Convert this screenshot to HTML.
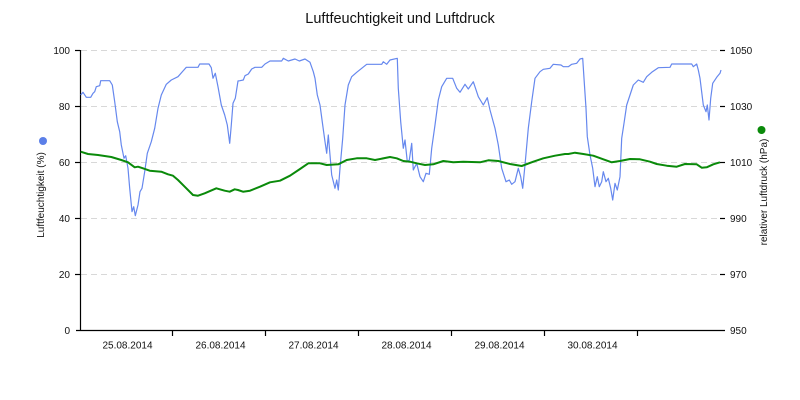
<!DOCTYPE html>
<html><head><meta charset="utf-8"><style>
html,body{margin:0;padding:0;background:#fff;}
svg{display:block;}
text{font-family:"Liberation Sans","DejaVu Sans",sans-serif;fill:#111;}
</style></head><body>
<svg width="800" height="400" viewBox="0 0 800 400" xmlns="http://www.w3.org/2000/svg">
<rect width="800" height="400" fill="#fff"/>
<text x="400" y="23" text-anchor="middle" font-size="14.5" fill="#111">Luftfeuchtigkeit und Luftdruck</text>
<g stroke="#d8d8d8" stroke-width="1" stroke-dasharray="6,4">
<line x1="81" y1="50.5" x2="720" y2="50.5"/>
<line x1="81" y1="106.5" x2="720" y2="106.5"/>
<line x1="81" y1="162.5" x2="720" y2="162.5"/>
<line x1="81" y1="218.5" x2="720" y2="218.5"/>
<line x1="81" y1="274.5" x2="720" y2="274.5"/>
</g>
<g stroke="#000" stroke-width="1.2">
<line x1="80.5" y1="50" x2="80.5" y2="331"/>
<line x1="76" y1="330.5" x2="725" y2="330.5"/>
<line x1="75" y1="50.5" x2="80" y2="50.5"/>
<line x1="75" y1="106.5" x2="80" y2="106.5"/>
<line x1="75" y1="162.5" x2="80" y2="162.5"/>
<line x1="75" y1="218.5" x2="80" y2="218.5"/>
<line x1="75" y1="274.5" x2="80" y2="274.5"/>
<line x1="720" y1="50.5" x2="725" y2="50.5"/>
<line x1="720" y1="106.5" x2="725" y2="106.5"/>
<line x1="720" y1="162.5" x2="725" y2="162.5"/>
<line x1="720" y1="218.5" x2="725" y2="218.5"/>
<line x1="720" y1="274.5" x2="725" y2="274.5"/>
<line x1="172.5" y1="330" x2="172.5" y2="336"/>
<line x1="265.5" y1="330" x2="265.5" y2="336"/>
<line x1="358.5" y1="330" x2="358.5" y2="336"/>
<line x1="451.5" y1="330" x2="451.5" y2="336"/>
<line x1="544.5" y1="330" x2="544.5" y2="336"/>
<line x1="637.5" y1="330" x2="637.5" y2="336"/>
</g>
<g font-size="10" text-anchor="end">
<text x="70" y="54">100</text>
<text x="70" y="110">80</text>
<text x="70" y="166">60</text>
<text x="70" y="222">40</text>
<text x="70" y="278">20</text>
<text x="70" y="334">0</text>
</g>
<g font-size="10" text-anchor="start">
<text x="730" y="54">1050</text>
<text x="730" y="110">1030</text>
<text x="730" y="166">1010</text>
<text x="730" y="222">990</text>
<text x="730" y="278">970</text>
<text x="730" y="334">950</text>
</g>
<g font-size="10" text-anchor="middle">
<text x="127.5" y="348.5">25.08.2014</text>
<text x="220.5" y="348.5">26.08.2014</text>
<text x="313.5" y="348.5">27.08.2014</text>
<text x="406.5" y="348.5">28.08.2014</text>
<text x="499.5" y="348.5">29.08.2014</text>
<text x="592.5" y="348.5">30.08.2014</text>
</g>
<text transform="translate(44,195) rotate(-90)" font-size="10" text-anchor="middle">Luftfeuchtigkeit (%)</text>
<text transform="translate(767,192) rotate(-90)" font-size="10" text-anchor="middle">relativer Luftdruck (hPa)</text>
<circle cx="43" cy="141" r="4" fill="#5b7fe8"/>
<circle cx="761.5" cy="130" r="4" fill="#0a8a0a"/>
<polyline fill="none" stroke="#6688ee" stroke-width="1.2" stroke-linejoin="round" points="80.7,95 83,92.3 86.3,97.3 90.7,97.3 93,93.3 94.7,91.7 96.3,86.7 99.7,85.7 100.7,80.7 109.7,80.7 112.3,85 114.7,101.7 117.3,121.7 119.7,131.7 121.3,145 124,158.3 125.7,155.7 128,168.3 129.7,188.3 132,211.7 133.7,206.7 135.3,215.7 138,205 140,191.7 142,188.3 144.7,171.7 147.3,153.3 151.3,141.7 154.7,128.3 158,108.3 161.3,95 166.3,84.3 171.3,80 178,76.7 183,71 186.3,67.3 198,67.3 199.7,64 209,64 211.3,67.7 213,78.3 215.3,73.3 218,86.7 221.3,105 224.7,115 227.3,125 229.7,143.3 231.3,125 233,103.3 235.3,98.3 238,81 240,80.7 243.3,80 245,75.7 248.3,74 251.7,69 255,67.3 261.7,67.3 265,64 270,61 281.7,61 283.3,58.3 288.3,61 295,59 299.3,61 305,59 310,62.3 313.3,71.7 315,78.3 317.3,95 320,105 322.7,125 325,141.7 326.7,153.3 328.3,135 330,155 331.7,175 335,188.3 336.7,180 338.3,190 340,168.3 342.7,138.3 345,105 348.3,85 351.7,76.7 356.7,72.3 361.7,68.3 366.7,64.3 381.7,64.3 383.3,61.7 386.7,64.3 390,60 397.3,58.3 398.3,88.3 400.7,121.7 403.3,148.3 405,140 407.3,161.7 409.3,160 411.7,143.3 413.3,170 416.7,163.3 420,176.7 423.3,181.7 426,173.3 429.3,174.3 431.7,148.3 435,125 438.3,100 441.7,86.7 446.7,78.3 452.7,78.3 456.7,88.3 460,92.3 465,84.3 468.3,89 473.3,81.7 478.3,96.7 483.3,105 487.3,97.7 490,110 495,128.3 498.3,145 501.7,168.3 506,181.7 509.3,180 511.7,184.3 515,181.7 518.3,168.3 520.7,176.7 522.7,188.3 525,165 528.3,128.3 531.7,101.7 535,78.3 540,71.7 543.3,69.3 550,68.3 553.3,64.3 561,65 563.3,66.7 568.3,66.7 571.7,64.3 576.7,63.3 580,59 582.7,58.3 584,78.3 586,108.3 587.3,136.7 590,155 592.7,168.3 595,186.7 597.3,176.7 599.3,186.7 601.7,181.7 603.3,171.7 606,181.7 608.3,178.3 610.7,188.3 612.7,200 615,183.3 617.3,190 620,176.7 621.7,138.3 624,123.3 626.7,105 630,95 633.3,85 638.3,80 643.3,82.3 646.7,76.7 651.7,72.3 658.3,67.7 670,67.3 671.7,64 691.7,64 693.3,66.7 696.7,64 698.3,70 700,78.3 703.3,105 706,111.7 707.3,105 709,120 710.7,98.3 712.7,83.3 716.7,77.3 720,73.3 721,70"/>
<polyline fill="none" stroke="#0a8a0a" stroke-width="2" stroke-linejoin="round" points="80.7,151.7 88,154 98,155 111.3,157 121.3,160 128,162.3 134.7,167.3 138,166.7 143,168.3 149.7,170.7 161.3,171.7 168,174.3 173,175.7 178,180 184.7,186.7 193,195 198,195.7 204.7,193.3 216.3,188.3 224.7,190.7 229.7,191.7 234.7,189.3 238,190 243,191.7 250,190.7 260,186.7 270,182.3 280,180.7 290,175.7 300,169 308.3,163.3 320,163.3 326.7,165 338.3,164.3 346.7,160 356.7,158.3 366.7,158.3 375,160 390,157 396.7,158.3 403.3,161 410,161.7 416.7,163.3 425,165 433.3,164.3 443.3,161 453.3,162.3 463.3,161.7 480,162.3 488.3,160.3 498.3,161 510,164 521.7,166 533.3,161.7 543.3,158.3 555,155.7 565,154 568.3,154 575,152.7 583.3,154 593.3,155.7 603.3,159.3 611.7,162.3 620,161 630,159 640,159.3 650,161.7 656.7,164 666.7,165.7 676.7,166.7 685,164 696.7,164.3 701.7,167.7 706.7,167.3 713.3,164.3 720,162.3"/>
</svg>
</body></html>
